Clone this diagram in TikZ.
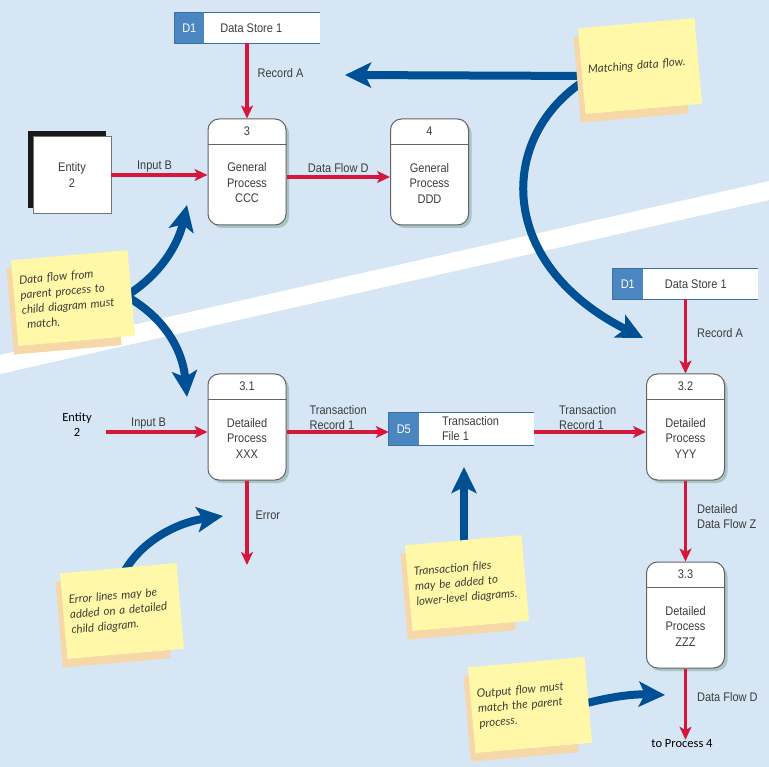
\documentclass[tikz,border=0pt]{standalone}
\usepackage{fontspec}
\setmainfont{Liberation Sans}[FakeStretch=0.88]
\newfontfamily\notefont{Lato}
\newfontfamily\calfont{Carlito}
\usetikzlibrary{arrows.meta,shadows,positioning}
\definecolor{bgblue}{RGB}{214,230,245}
\definecolor{flowred}{RGB}{214,22,58}
\definecolor{notearrow}{RGB}{0,80,150}
\definecolor{idblue}{RGB}{74,134,192}
\definecolor{storeedge}{RGB}{60,110,170}
\definecolor{noteyellow}{RGB}{255,248,168}
\definecolor{notebackc}{RGB}{245,215,168}
\definecolor{notetext}{RGB}{64,64,56}
\definecolor{labgrey}{RGB}{60,60,60}
\definecolor{procshadow}{RGB}{170,196,196}
\tikzset{
  lab/.style={text=labgrey, font=\fontsize{12.5}{15}\selectfont, inner sep=1pt, align=left},
  ptext/.style={text=labgrey, font=\fontsize{12.5}{15.5}\selectfont, align=center, inner sep=0pt},
  proc/.style={draw=labgrey!80, line width=1pt, fill=white, rounded corners=11pt,
    minimum width=78pt, minimum height=106pt, inner sep=0pt,
    drop shadow={shadow xshift=3pt, shadow yshift=-3pt, fill=procshadow, opacity=1}},
  divider/.style={labgrey!80, line width=1pt},
  store/.style={fill=white, minimum width=145pt, minimum height=30pt, inner sep=0pt},
  storeline/.style={storeedge, line width=1.2pt},
  entity/.style={ptext, draw=labgrey!70, fill=white, minimum width=78pt, minimum height=77pt,
    drop shadow={shadow xshift=-5pt, shadow yshift=5pt, fill=black!90, opacity=1}},
  entb/.style={text=black, font=\calfont\fontsize{12.5}{15}\selectfont, align=center, inner sep=0pt},
  flow/.style={flowred, line width=3.2pt, -{Stealth[length=13pt,width=12pt,inset=3.5pt]}},
  bigarrow/.style={notearrow, line width=8pt, -{Stealth[length=26pt,width=25pt,inset=6pt]}},
  note/.style={fill=noteyellow, minimum width=117pt, minimum height=86pt, text width=104pt,
    align=left, font=\notefont\itshape\fontsize{11.5}{15}\selectfont, text=notetext, inner sep=0pt},
  noteback/.style={fill=notebackc, minimum width=108pt, minimum height=86pt, inner sep=0pt}
}
\begin{document}
\begin{tikzpicture}[x=1pt,y=-1pt]
\useasboundingbox (0,0) rectangle (769,767);
\fill[bgblue] (0,0) rectangle (769,767);
\fill[white] (0,355) -- (769,181) -- (769,200) -- (0,374) -- cycle;
%Parent diagram
\node[store] (d1) at (247,28) {};
\fill[idblue] (d1.north west) rectangle ([xshift=30pt]d1.south west);
\draw[storeline] (d1.north east) -- (d1.north west) -- (d1.south west) -- (d1.south east);
\node[lab, text=white] at ([xshift=15pt]d1.west) {D1};
\node[lab] at ([xshift=77pt]d1.west) {Data Store 1};
\node[entity] (ent) at (72,175) {Entity\\2};
\node[proc] (p3) at (247,172) {};
\draw[divider] ([yshift=-26pt]p3.north west) -- ([yshift=-26pt]p3.north east);
\node[ptext] at ([yshift=-13pt]p3.north) {3};
\node[ptext] at ([yshift=-11pt]p3.center) {General\\Process\\CCC};
\node[proc] (p4) at (429.5,172) {};
\draw[divider] ([yshift=-26pt]p4.north west) -- ([yshift=-26pt]p4.north east);
\node[ptext] at ([yshift=-13pt]p4.north) {4};
\node[ptext] at ([yshift=-11pt]p4.center) {General\\Process\\DDD};
\draw[flow] (d1) -- node[lab, right=8pt, pos=0.4] {Record A} (p3);
\draw[flow] (ent) -- node[lab, above, pos=0.45] {Input B} (ent -| p3.west);
\draw[flow] ([yshift=-5pt]p3.east) -- node[lab, above, yshift=2pt] {Data Flow D} ([yshift=-5pt]p4.west);
%Child diagram
\node[store] (d1b) at (685.5,284) {};
\fill[idblue] (d1b.north west) rectangle ([xshift=30pt]d1b.south west);
\draw[storeline] (d1b.north east) -- (d1b.north west) -- (d1b.south west) -- (d1b.south east);
\node[lab, text=white] at ([xshift=15pt]d1b.west) {D1};
\node[lab] at ([xshift=83pt]d1b.west) {Data Store 1};
\node[store, minimum height=32pt] (d5) at (461.5,429) {};
\fill[idblue] (d5.north west) rectangle ([xshift=30pt]d5.south west);
\draw[storeline] (d5.north east) -- (d5.north west) -- (d5.south west) -- (d5.south east);
\node[lab, text=white] at ([xshift=15pt]d5.west) {D5};
\node[lab, anchor=west] at ([xshift=52pt]d5.west) {Transaction\\File 1};
\node[proc] (p31) at (247,427) {};
\draw[divider] ([yshift=-26pt]p31.north west) -- ([yshift=-26pt]p31.north east);
\node[ptext] at ([yshift=-13pt]p31.north) {3.1};
\node[ptext] at ([yshift=-11pt]p31.center) {Detailed\\Process\\XXX};
\node[proc] (p32) at (685.5,427) {};
\draw[divider] ([yshift=-26pt]p32.north west) -- ([yshift=-26pt]p32.north east);
\node[ptext] at ([yshift=-13pt]p32.north) {3.2};
\node[ptext] at ([yshift=-11pt]p32.center) {Detailed\\Process\\YYY};
\node[proc] (p33) at (685.5,615) {};
\draw[divider] ([yshift=-26pt]p33.north west) -- ([yshift=-26pt]p33.north east);
\node[ptext] at ([yshift=-13pt]p33.north) {3.3};
\node[ptext] at ([yshift=-11pt]p33.center) {Detailed\\Process\\ZZZ};
\node[entb] (e2) at (77,425) {Entity\\2};
\node[entb] (toP4) at (682,744) {to Process 4};
\coordinate (inB) at (106,432);
\coordinate (err) at (247,565);
\draw[flow] (inB) -- node[lab, above, pos=0.42] {Input B} (inB -| p31.west);
\draw[flow] ([yshift=-5pt]p31.east) -- node[lab, above right, pos=0.2] {Transaction\\Record 1} ([yshift=-5pt]p31.east -| d5.west);
\draw[flow] ([yshift=-3pt]d5.east) -- node[lab, above right, pos=0.2] {Transaction\\Record 1} ([yshift=-3pt]d5.east -| p32.west);
\draw[flow] (d1b) -- node[lab, right=9pt, pos=0.45] {Record A} (p32);
\draw[flow] (p31) -- node[lab, right=6pt, pos=0.41] {Error} (err);
\draw[flow] (p32) -- node[lab, right=9pt, pos=0.45] {Detailed\\Data Flow Z} (p33);
\draw[flow] (p33) -- node[lab, right=9pt, pos=0.4] {Data Flow D} (p33 |- toP4.north);
%Callout arrows
\coordinate (mFrom) at (592,76);
\coordinate (recA) at (345,75);
\coordinate (mTo) at (643,338);
\draw[bigarrow] (mFrom) -- (recA);
\draw[bigarrow] (mFrom) .. controls (498,130) and (492,262) .. (mTo);
\coordinate (dfFrom) at (126,296);
\coordinate (dfUp) at (187,205);
\coordinate (dfDown) at (187,397);
\draw[bigarrow] (dfFrom) .. controls (160,275) and (178,245) .. (dfUp);
\draw[bigarrow] (dfFrom) .. controls (160,315) and (182,345) .. (dfDown);
\coordinate (erFrom) at (120,580);
\coordinate (erTo) at (223,516);
\draw[bigarrow] (erFrom) .. controls (138,540) and (180,522) .. (erTo);
\coordinate (trFrom) at (464,550);
\coordinate (trTo) at (464,467);
\draw[bigarrow] (trFrom) -- (trTo);
\coordinate (outFrom) at (580,705);
\coordinate (outTo) at (665,695);
\draw[bigarrow] (outFrom) .. controls (612,696) and (635,694) .. (outTo);
%Notes
\node[noteback, rotate=5] at (631,75) {};
\node[note, rotate=5] (nMatch) at (640,66) {Matching data flow.};
\node[noteback, rotate=5] at (64,307) {};
\node[note, rotate=5] (nParent) at (73,298) {Data flow from\\parent process to\\child diagram must\\\hspace*{4pt}match.};
\node[noteback, rotate=5] at (113,620) {};
\node[note, rotate=5] (nError) at (122,611) {Error lines may be\\added on a detailed\\child diagram.};
\node[noteback, rotate=5] at (458,592) {};
\node[note, rotate=5] (nTrans) at (467,583) {Transaction files\\may be added to\\lower-level diagrams.};
\node[noteback, rotate=5] at (521,714) {};
\node[note, rotate=5] (nOut) at (530,705) {Output flow must\\match the parent\\process.};
\end{tikzpicture}
\end{document}
